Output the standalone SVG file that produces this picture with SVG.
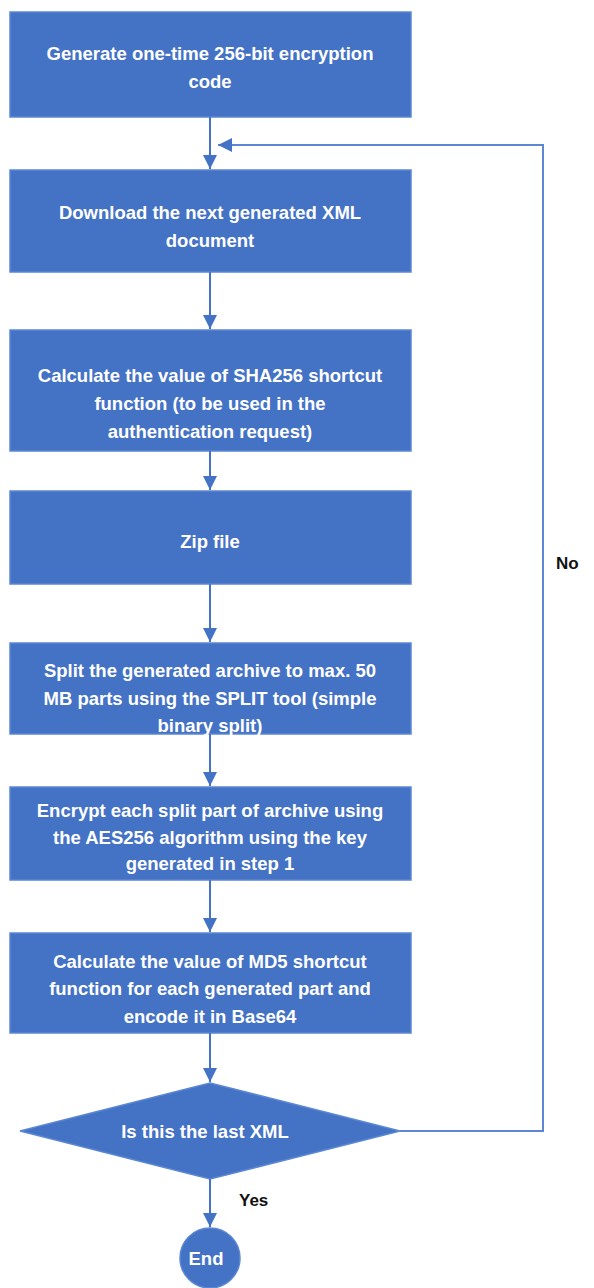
<svg xmlns="http://www.w3.org/2000/svg" width="594" height="1288" viewBox="0 0 594 1288">
<style>
.box{fill:#4472C4;stroke:#5B87D3;stroke-width:1.5}
.t{font-family:"Liberation Sans",Arial,sans-serif;font-weight:bold;font-size:18.5px;fill:#FFFFFF;text-anchor:middle}
.lbl{font-family:"Liberation Sans",Arial,sans-serif;font-weight:bold;font-size:17px;fill:#111111}
.c{fill:none;stroke:#4472C4;stroke-width:2}
.loop{fill:none;stroke:#5B87D3;stroke-width:2}
</style>
<defs>
<marker id="ah" viewBox="0 0 10 10" refX="10" refY="5" markerWidth="7" markerHeight="7" markerUnits="strokeWidth" orient="auto">
<path d="M0,0 L10,5 L0,10 Z" fill="#4472C4"/>
</marker>
</defs>
<rect width="594" height="1288" fill="#FFFFFF"/>
<g id="n1"><rect class="box" x="10" y="12" width="401" height="105"/>
<text class="t" x="210" y="60">Generate one-time 256-bit encryption</text>
<text class="t" x="210" y="88">code</text></g>
<g id="n2"><rect class="box" x="10" y="170" width="401" height="102"/>
<text class="t" x="210" y="219">Download the next generated XML</text>
<text class="t" x="210" y="247">document</text></g>
<g id="n3"><rect class="box" x="10" y="330" width="401" height="121"/>
<text class="t" x="210" y="382">Calculate the value of SHA256 shortcut</text>
<text class="t" x="210" y="410">function (to be used in the</text>
<text class="t" x="210" y="438">authentication request)</text></g>
<g id="n4"><rect class="box" x="10" y="491" width="401" height="93"/>
<text class="t" x="210" y="548">Zip file</text></g>
<g id="n5"><rect class="box" x="10" y="643" width="401" height="91"/>
<text class="t" x="210" y="677">Split the generated archive to max. 50</text>
<text class="t" x="210" y="705">MB parts using the SPLIT tool (simple</text>
<text class="t" x="210" y="732">binary split)</text></g>
<g id="n6"><rect class="box" x="10" y="787" width="401" height="93"/>
<text class="t" x="210" y="817">Encrypt each split part of archive using</text>
<text class="t" x="210" y="844">the AES256 algorithm using the key</text>
<text class="t" x="210" y="870">generated in step 1</text></g>
<g id="n7"><rect class="box" x="10" y="933" width="401" height="100"/>
<text class="t" x="210" y="968">Calculate the value of MD5 shortcut</text>
<text class="t" x="210" y="995">function for each generated part and</text>
<text class="t" x="210" y="1023">encode it in Base64</text></g>
<g id="n8"><polygon class="box" points="210,1083 400,1131 210,1179 20,1131"/>
<text class="t" x="205" y="1138">Is this the last XML</text></g>
<g id="n9"><circle class="box" cx="210" cy="1258" r="30"/>
<text class="t" x="206" y="1265">End</text></g>
<g id="connectors">
<line class="c" x1="210" y1="117" x2="210" y2="169" marker-end="url(#ah)"/>
<line class="c" x1="210" y1="272" x2="210" y2="329" marker-end="url(#ah)"/>
<line class="c" x1="210" y1="451" x2="210" y2="490" marker-end="url(#ah)"/>
<line class="c" x1="210" y1="584" x2="210" y2="642" marker-end="url(#ah)"/>
<line class="c" x1="210" y1="734" x2="210" y2="786" marker-end="url(#ah)"/>
<line class="c" x1="210" y1="880" x2="210" y2="932" marker-end="url(#ah)"/>
<line class="c" x1="210" y1="1033" x2="210" y2="1082" marker-end="url(#ah)"/>
<line class="c" x1="210" y1="1179" x2="210" y2="1227" marker-end="url(#ah)"/>
<polyline class="loop" points="400,1131 543,1131 543,145 218,145" marker-end="url(#ah)"/>
<text class="lbl" x="239" y="1206">Yes</text>
<text class="lbl" x="556" y="569">No</text>
</g>
</svg>
